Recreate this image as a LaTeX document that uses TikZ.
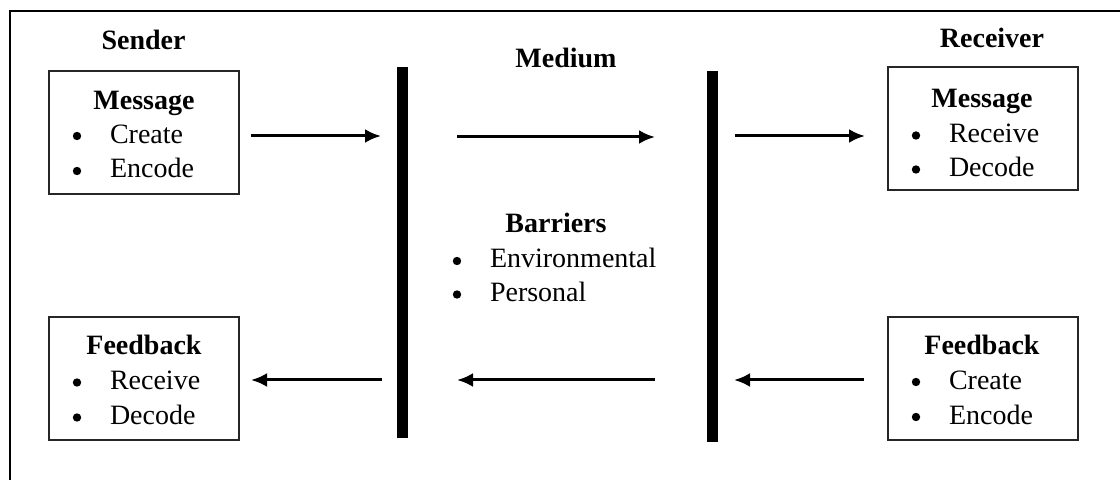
\documentclass[tikz,border=0pt]{standalone}
\usepackage{fontspec}
\setmainfont{Liberation Serif}
\usetikzlibrary{arrows.meta}
\begin{document}
\begin{tikzpicture}[x=0.5pt,y=-0.5pt,
  every node/.style={inner sep=0pt, outer sep=0pt, font=\fontsize{14}{17}\selectfont},
  heading/.style={anchor=base, font=\fontsize{14}{17}\selectfont\bfseries},
  entry/.style={anchor=base west},
  dot/.style={circle, fill=black, minimum size=4.2pt},
  card/.style={draw=black!85, line width=1pt, minimum width=95pt, minimum height=61.5pt},
  bar/.style={fill=black, minimum width=5.5pt, minimum height=185.5pt},
  flow/.style={line width=1.5pt, -{Latex[length=8pt,width=7pt]}}]

\useasboundingbox (0,0) rectangle (1120,480);

% frame
\draw[line width=1pt] (10,480) -- (10,11) -- (1120,11);

% column headings
\node[heading] (sender) at (143.5,50) {Sender};
\node[heading] (medium) at (566,68) {Medium};
\node[heading] (receiver) at (992,48) {Receiver};

% sender: message
\node[card] (msgL) at (144,132.5) {};
\node[heading] (msgLt) at (144,110) {Message};
\node[dot] (msgLd1) at (77,136) {};
\node[entry] (msgL1) at (110,143.5) {Create};
\node[dot] (msgLd2) at (77,171) {};
\node[entry] (msgL2) at (110,178) {Encode};

% sender: feedback
\node[card] (fbL) at (144,378.5) {};
\node[heading] (fbLt) at (144,355) {Feedback};
\node[dot] (fbLd1) at (77,382.5) {};
\node[entry] (fbL1) at (110,390) {Receive};
\node[dot] (fbLd2) at (77,417.5) {};
\node[entry] (fbL2) at (110,425) {Decode};

% receiver: message
\node[card] (msgR) at (983,129) {};
\node[heading] (msgRt) at (982,108) {Message};
\node[dot] (msgRd1) at (916,135.5) {};
\node[entry] (msgR1) at (949,142.5) {Receive};
\node[dot] (msgRd2) at (916,169.5) {};
\node[entry] (msgR2) at (949,177) {Decode};

% receiver: feedback
\node[card] (fbR) at (983,378.5) {};
\node[heading] (fbRt) at (982,355) {Feedback};
\node[dot] (fbRd1) at (916,382) {};
\node[entry] (fbR1) at (949,389.5) {Create};
\node[dot] (fbRd2) at (916,417) {};
\node[entry] (fbR2) at (949,424.5) {Encode};

% medium: barriers
\node[heading] (barr) at (556,233) {Barriers};
\node[dot] (barrd1) at (457,261) {};
\node[entry] (barr1) at (490,268) {Environmental};
\node[dot] (barrd2) at (457,294.5) {};
\node[entry] (barr2) at (490,302) {Personal};

% medium boundaries
\node[bar] (barL) at (402,252.5) {};
\node[bar] (barR) at (712.5,256.5) {};

% arrow ends
\coordinate (m1s) at (251,136);
\coordinate (m1e) at (381,136);
\coordinate (m2s) at (457,137);
\coordinate (m2e) at (655,137);
\coordinate (m3s) at (735,136);
\coordinate (m3e) at (865,136);
\coordinate (f3s) at (864,380);
\coordinate (f3e) at (734,380);
\coordinate (f2s) at (655,380);
\coordinate (f2e) at (457,380);
\coordinate (f1s) at (382,380);
\coordinate (f1e) at (251,380);

% message flow
\draw[flow] (m1s) -- (m1e);
\draw[flow] (m2s) -- (m2e);
\draw[flow] (m3s) -- (m3e);
% feedback flow
\draw[flow] (f3s) -- (f3e);
\draw[flow] (f2s) -- (f2e);
\draw[flow] (f1s) -- (f1e);
\end{tikzpicture}
\end{document}
